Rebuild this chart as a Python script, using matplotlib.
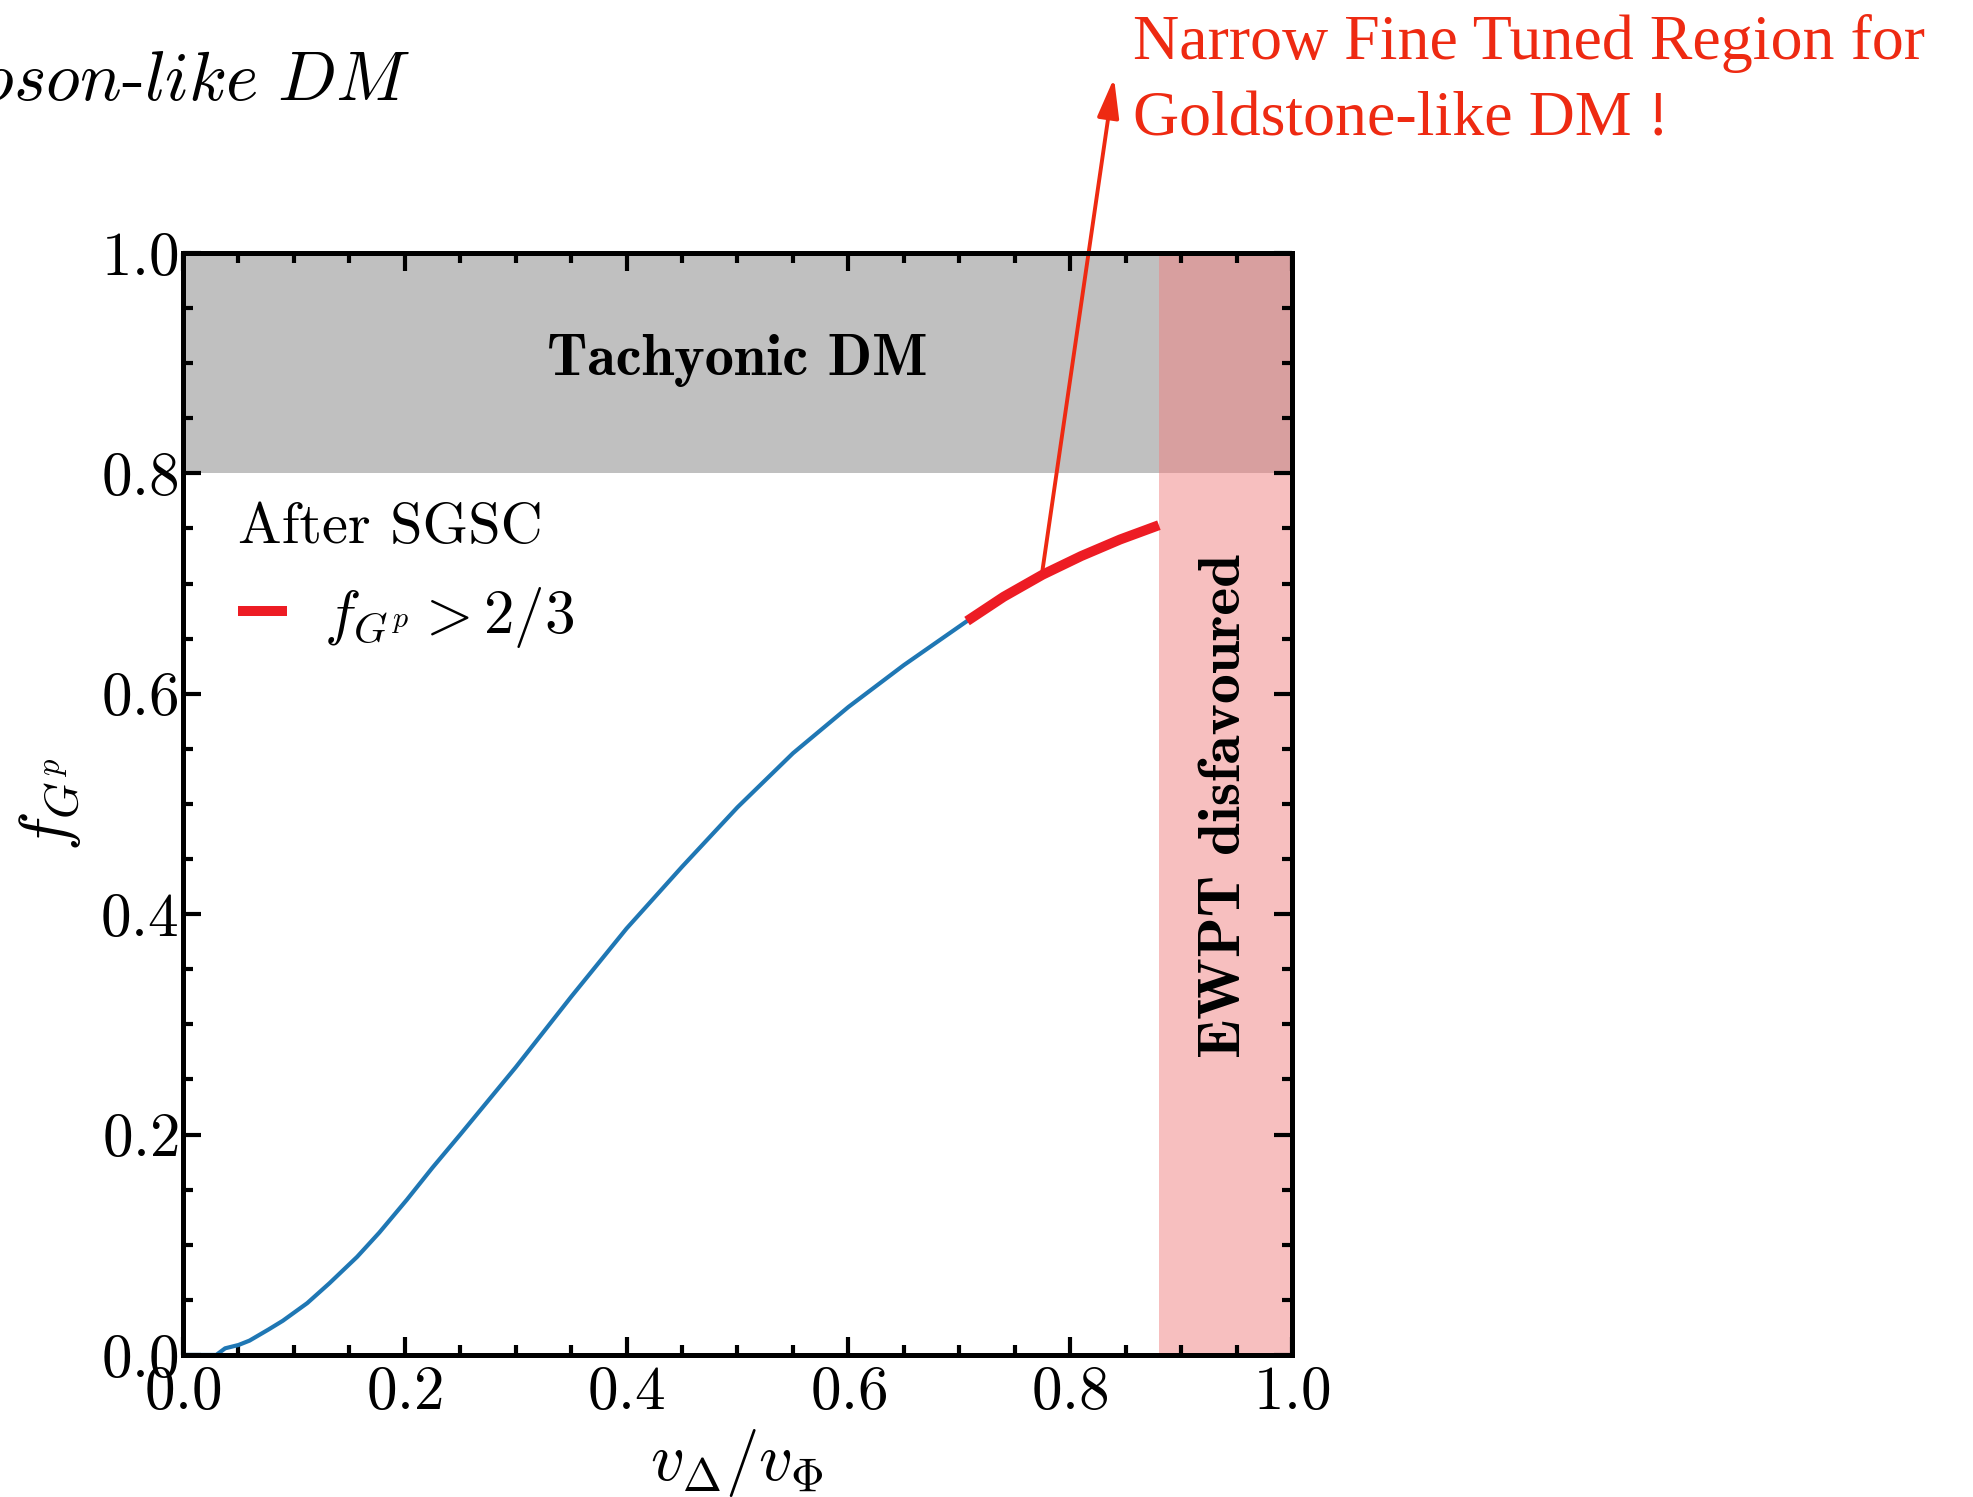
import matplotlib
matplotlib.use("Agg")
import matplotlib.pyplot as plt
from matplotlib.ticker import MultipleLocator

# data
x_blue = [0.0, 0.030, 0.038, 0.050, 0.060, 0.077, 0.090, 0.112, 0.132, 0.157,
          0.177, 0.202, 0.225, 0.250, 0.300, 0.350, 0.400, 0.450, 0.500, 0.550,
          0.600, 0.650, 0.707]
f_blue = [0.0, 0.0, 0.006, 0.009, 0.013, 0.023, 0.031, 0.047, 0.065, 0.089,
          0.111, 0.141, 0.170, 0.200, 0.261, 0.325, 0.387, 0.443, 0.497, 0.546,
          0.588, 0.626, 0.666]
x_red = [0.707, 0.740, 0.775, 0.810, 0.845, 0.880]
f_red = [0.666, 0.688, 0.708, 0.725, 0.740, 0.753]
tachyonic_band = (0.8, 1.0)
ewpt_band = (0.88, 1.0)
xticks = [0.0, 0.2, 0.4, 0.6, 0.8, 1.0]

plt.rcParams['font.family'] = 'serif'
plt.rcParams['font.serif'] = ['cmr10']
plt.rcParams['mathtext.fontset'] = 'cm'
plt.rcParams['axes.formatter.use_mathtext'] = True
plt.rcParams['axes.unicode_minus'] = False

c_red = '#ed1c24'
c_note = '#ee2a12'

fig = plt.figure(figsize=(9.87, 7.485), dpi=200)
ax = fig.add_axes([0.0927, 0.0949, 0.5618, 0.7361])

ax.axhspan(*tachyonic_band, color='silver', lw=0, zorder=0)
ax.axvspan(*ewpt_band, color='lightcoral', alpha=0.5, lw=0, zorder=1)

ax.plot(x_blue, f_blue, color='#1f77b4', lw=1.5, zorder=3)
ax.plot(x_red, f_red, color=c_red, lw=3.6, solid_capstyle='butt', zorder=4,
        label=r'$f_{G^p} > 2/3$')

ax.set_xlim(0, 1)
ax.set_ylim(0, 1)
ax.set_xticks(xticks)
ax.set_yticks(xticks)
ax.xaxis.set_minor_locator(MultipleLocator(0.05))
ax.yaxis.set_minor_locator(MultipleLocator(0.05))
ax.tick_params(which='both', direction='in', top=True, right=True, labelsize=22)
ax.tick_params(axis='x', pad=4)
ax.tick_params(axis='y', pad=1.5)
ax.tick_params(which='major', length=6.5, width=1.5)
ax.tick_params(which='minor', length=3.6, width=1.5)
for s in ax.spines.values():
    s.set_linewidth(1.8)
    s.set_zorder(5)

ax.set_xlabel(r'$v_\Delta/v_\Phi$', fontsize=24)
ax.set_ylabel(r'$f_{G^p}$', fontsize=24)
ax.xaxis.set_label_coords(0.5, -0.065)
ax.yaxis.set_label_coords(-0.09, 0.5)

ax.text(0.5, 0.902, 'Tachyonic DM', family='cmb10', fontsize=21,
        ha='center', va='center')
ax.text(0.94, 0.498, 'EWPT disfavoured', family='cmb10', fontsize=21.5,
        rotation=90, ha='center', va='center')

leg = ax.legend(loc='upper left', bbox_to_anchor=(0.05, 0.773), frameon=False,
                title='After SGSC', title_fontproperties={'family': 'cmr10', 'size': 21},
                fontsize=22, alignment='left', borderpad=0, borderaxespad=0,
                handlelength=0.8, handletextpad=0.6)

# arrow from the red segment to the note
ax.annotate('', xy=(1114 / 1974, 1 - 78 / 1497), xycoords='figure fraction',
            xytext=(0.775, 0.712), textcoords='data',
            arrowprops=dict(arrowstyle='-|>,head_length=0.8,head_width=0.22',
                            color=c_note, lw=1.4, shrinkA=0, shrinkB=0,
                            mutation_scale=15),
            annotation_clip=False)

fig.text(1133 / 1974, 1 - 59 / 1497, 'Narrow Fine Tuned Region for', color=c_note,
         fontsize=23, family='Liberation Serif', ha='left', va='baseline')
fig.text(1133 / 1974, 1 - 135 / 1497, 'Goldstone-like DM !', color=c_note,
         fontsize=23, family='Liberation Serif', ha='left', va='baseline')

fig.text(410 / 1974, 1 - 100 / 1497, r'$\mathit{boson}$-$\mathit{like\ DM}$',
         fontsize=25, ha='right', va='baseline')

fig.savefig('out.png', dpi=200)
